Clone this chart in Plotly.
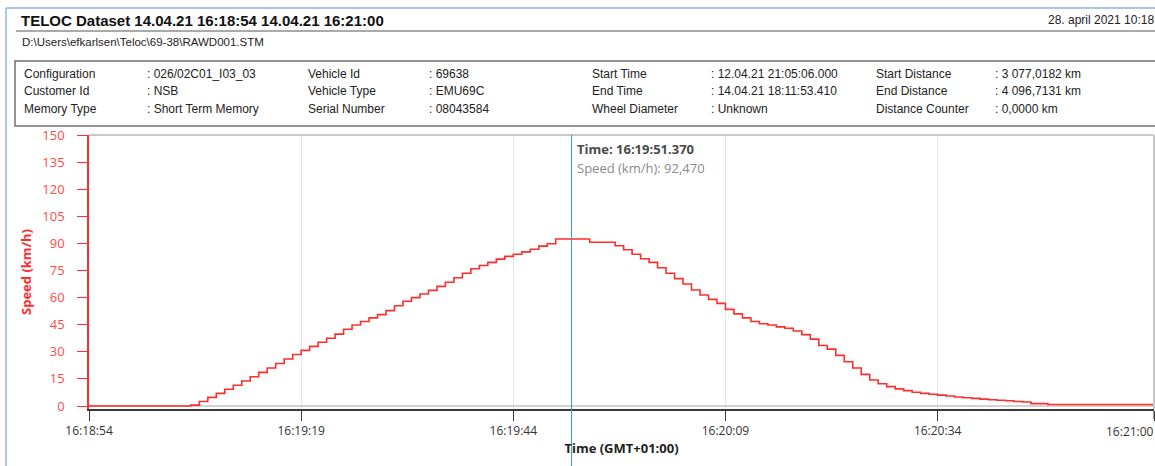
import pandas as pd
import plotly.graph_objects as go

# ---------------- data ----------------
BASE = pd.Timestamp("2021-04-14 16:18:54.5")
END_S = 125.5
sample_s = [0.0] + list(range(12, 114)) + [END_S]
speed_kmh = [0.0,
    0.5, 2.5, 4.8, 7.0, 9.3, 11.5, 13.8, 16.2, 18.6, 21.0,
    23.5, 26.0, 28.5, 30.8, 33.0, 35.3, 37.5, 39.8, 42.5, 44.8,
    46.8, 48.8, 50.6, 52.8, 55.5, 58.0, 60.0, 62.0, 64.0, 66.2,
    68.5, 71.0, 73.5, 76.0, 77.8, 79.5, 81.3, 82.8, 84.0, 85.3,
    86.8, 88.5, 89.8, 92.47, 92.47, 92.47, 92.47, 90.6, 90.6, 90.6,
    88.7, 86.5, 84.0, 81.5, 79.5, 76.5, 73.5, 70.5, 67.5, 64.2,
    61.4, 59.0, 56.8, 53.5, 51.0, 48.8, 46.8, 45.5, 44.8, 43.8,
    43.0, 41.5, 39.5, 37.0, 33.5, 31.5, 28.0, 24.5, 21.0, 17.5,
    14.4, 12.3, 10.7, 9.5, 8.5, 7.6, 7.0, 6.5, 6.0, 5.5,
    5.0, 4.6, 4.2, 3.8, 3.5, 3.2, 2.9, 2.5, 2.2, 1.3,
    1.3, 0.8,
    0.8]

tick_offsets_s = [0, 25, 50, 75, 100, END_S]
tick_labels = ["16:18:54", "16:19:19", "16:19:44", "16:20:09", "16:20:34", "16:21:00"]
y_ticks = [0, 15, 30, 45, 60, 75, 90, 105, 120, 135, 150]

cursor_time = "2021-04-14 16:19:51.370"
cursor_label = "16:19:51.370"
cursor_speed = "92,470"

header_title = "TELOC Dataset 14.04.21 16:18:54 14.04.21 16:21:00"
header_date = "28. april 2021 10:18"
header_path = "D:\\Users\\efkarlsen\\Teloc\\69-38\\RAWD001.STM"
info_labels = [["Configuration", "Customer Id", "Memory Type"],
               ["Vehicle Id", "Vehicle Type", "Serial Number"],
               ["Start Time", "End Time", "Wheel Diameter"],
               ["Start Distance", "End Distance", "Distance Counter"]]
info_values = [[": 026/02C01_I03_03", ": NSB", ": Short Term Memory"],
               [": 69638", ": EMU69C", ": 08043584"],
               [": 12.04.21 21:05:06.000", ": 14.04.21 18:11:53.410", ": Unknown"],
               [": 3 077,0182 km", ": 4 096,7131 km", ": 0,0000 km"]]


def ts(s):
    return (BASE + pd.Timedelta(seconds=s)).strftime("%Y-%m-%d %H:%M:%S.%f")[:-3]


x_times = [ts(s) for s in sample_s]
tick_vals = [ts(s) for s in tick_offsets_s]
# last label is drawn separately (right-aligned so it stays inside the page)
axis_tick_text = tick_labels[:-1] + [""]

# ---------------- layout geometry ----------------
W, H = 1155, 466
ML, MR, MT, MB = 89, 1, 135, 57
PW, PH = W - ML - MR, H - MT - MB


def px(x):
    return (x - ML) / PW


def py(y):
    return (H - MB - y) / PH


RED = "#ff2d2d"
RED_T = "#ff4a4a"
CHART_FONT = "Segoe UI, Open Sans, Noto Sans, sans-serif"
HDR_FONT = "Liberation Sans, Arial, sans-serif"

fig = go.Figure()
fig.add_trace(go.Scatter(
    x=x_times, y=speed_kmh, mode="lines",
    line=dict(color=RED, width=1.6, shape="hv"),
    hoverinfo="skip", showlegend=False))

shapes = []
annotations = []

# plot frame (top and right grey)
shapes.append(dict(type="line", xref="paper", yref="paper", x0=0, x1=1, y0=1, y1=1,
                   line=dict(color="#c8c8c8", width=2)))
shapes.append(dict(type="line", xref="paper", yref="paper", x0=1, x1=1, y0=0, y1=1,
                   line=dict(color="#c8c8c8", width=2)))
# last x tick mark
shapes.append(dict(type="line", xref="x", yref="paper", x0=tick_vals[-1], x1=tick_vals[-1],
                   y0=py(419), y1=0, line=dict(color="#3a3a3a", width=1)))
annotations.append(dict(x=tick_vals[-1], xref="x", y=py(431), yref="paper", xanchor="right",
                        yanchor="middle", xshift=2, showarrow=False, text=tick_labels[-1],
                        font=dict(family=CHART_FONT, size=12, color="#333333")))

# cursor line
shapes.append(dict(type="line", xref="x", yref="paper", x0=cursor_time, x1=cursor_time,
                   y0=py(466), y1=1, line=dict(color="#3b8ee0", width=1)))
annotations.append(dict(x=cursor_time, xref="x", y=py(149), yref="paper", xanchor="left",
                        yanchor="middle", xshift=3, showarrow=False,
                        text="<b>Time: " + cursor_label + "</b>",
                        font=dict(family=CHART_FONT, size=13, color="#4a4a4a")))
annotations.append(dict(x=cursor_time, xref="x", y=py(168), yref="paper", xanchor="left",
                        yanchor="middle", xshift=3, showarrow=False,
                        text="Speed (km/h): " + cursor_speed,
                        font=dict(family=CHART_FONT, size=13, color="#8a8a8a")))

# window border (light blue)
shapes.append(dict(type="line", xref="paper", yref="paper", x0=px(6), x1=px(6), y0=py(466), y1=py(8),
                   line=dict(color="#a9c7e6", width=2)))
shapes.append(dict(type="line", xref="paper", yref="paper", x0=px(6), x1=px(1160), y0=py(8), y1=py(8),
                   line=dict(color="#a9c7e6", width=2)))

# title rule
shapes.append(dict(type="line", xref="paper", yref="paper", x0=px(16), x1=px(1160), y0=py(31), y1=py(31),
                   line=dict(color="#555555", width=1)))
# info box
shapes.append(dict(type="rect", xref="paper", yref="paper", x0=px(15), x1=px(1170), y0=py(126), y1=py(61),
                   line=dict(color="#707070", width=1.5)))

annotations.append(dict(x=px(19), y=py(21), xref="paper", yref="paper", xanchor="left", yanchor="middle",
                        showarrow=False, text="<b>" + header_title + "</b>",
                        font=dict(family=HDR_FONT, size=15, color="#111111")))
annotations.append(dict(x=px(1156), y=py(20), xref="paper", yref="paper", xanchor="right", yanchor="middle",
                        showarrow=False, text=header_date,
                        font=dict(family=HDR_FONT, size=12, color="#222222")))
annotations.append(dict(x=px(20), y=py(42), xref="paper", yref="paper", xanchor="left", yanchor="middle",
                        showarrow=False, text=header_path,
                        font=dict(family=HDR_FONT, size=11.5, color="#222222")))

label_x = [22, 306, 590, 874]
value_x = [145, 427, 709, 993]
row_y = [74, 91, 109]
for c in range(4):
    for r in range(3):
        annotations.append(dict(x=px(label_x[c]), y=py(row_y[r]), xref="paper", yref="paper",
                                xanchor="left", yanchor="middle", showarrow=False,
                                text=info_labels[c][r],
                                font=dict(family=HDR_FONT, size=12, color="#222222")))
        annotations.append(dict(x=px(value_x[c]), y=py(row_y[r]), xref="paper", yref="paper",
                                xanchor="left", yanchor="middle", showarrow=False,
                                text=info_values[c][r],
                                font=dict(family=HDR_FONT, size=12, color="#222222")))

fig.update_layout(
    width=W, height=H,
    margin=dict(l=ML, r=MR, t=MT, b=MB, pad=0),
    paper_bgcolor="white", plot_bgcolor="white",
    shapes=shapes, annotations=annotations,
    showlegend=False,
    xaxis=dict(
        type="date", range=[ts(0), ts(END_S)],
        tickmode="array", tickvals=tick_vals, ticktext=axis_tick_text,
        showgrid=True, gridcolor="#e4e4e4", gridwidth=1,
        showline=True, linecolor="#3a3a3a", linewidth=1.5,
        ticks="outside", ticklen=10, tickcolor="#3a3a3a", tickwidth=1,
        tickfont=dict(family=CHART_FONT, size=12, color="#333333"),
        title=dict(text="<b>Time (GMT+01:00)</b>", standoff=6,
                   font=dict(family=CHART_FONT, size=13, color="#222222")),
        zeroline=False, fixedrange=True,
    ),
    yaxis=dict(
        range=[-1.66, 150],
        tickmode="array", tickvals=y_ticks,
        showgrid=False,
        zeroline=True, zerolinecolor="#d2d2d2", zerolinewidth=2,
        showline=True, linecolor=RED, linewidth=1.5,
        ticks="outside", ticklen=10, tickcolor=RED, tickwidth=1,
        ticklabelstandoff=10,
        tickfont=dict(family=CHART_FONT, size=13, color=RED_T),
        title=dict(text="<b>Speed (km/h)</b>", standoff=8,
                   font=dict(family=CHART_FONT, size=13, color=RED)),
        fixedrange=True,
    ),
)

fig.write_html("out.html", config={"displayModeBar": False},
               post_script="document.body.style.margin='0';document.body.style.overflow='hidden';")
